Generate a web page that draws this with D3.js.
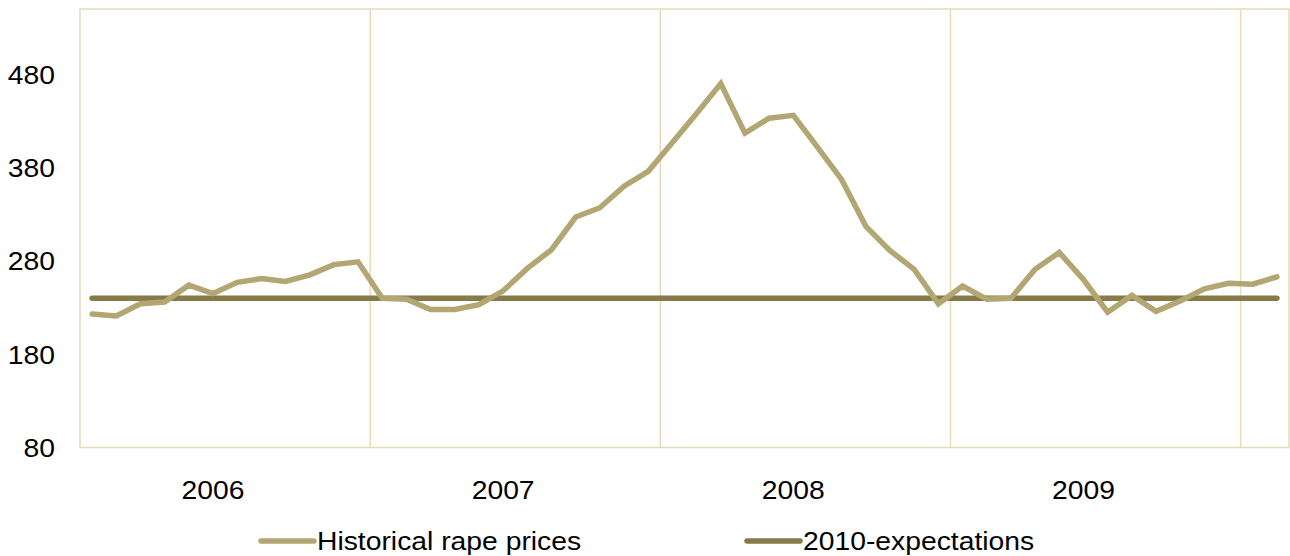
<!DOCTYPE html>
<html>
<head>
<meta charset="utf-8">
<script src="https://cdn.jsdelivr.net/npm/d3@7"></script>
<style>
  html, body { margin: 0; padding: 0; background: #ffffff; }
  svg { display: block; }
  text { font-family: "Liberation Sans", Arial, sans-serif; fill: #000; }
</style>
</head>
<body>
<svg id="chart" width="1290" height="556"></svg>
<script>
const months = [
  "2006-01","2006-02","2006-03","2006-04","2006-05","2006-06","2006-07","2006-08","2006-09","2006-10","2006-11","2006-12",
  "2007-01","2007-02","2007-03","2007-04","2007-05","2007-06","2007-07","2007-08","2007-09","2007-10","2007-11","2007-12",
  "2008-01","2008-02","2008-03","2008-04","2008-05","2008-06","2008-07","2008-08","2008-09","2008-10","2008-11","2008-12",
  "2009-01","2009-02","2009-03","2009-04","2009-05","2009-06","2009-07","2009-08","2009-09","2009-10","2009-11","2009-12",
  "2010-01","2010-02"
];
const historicalPrices = [
  223, 221, 234, 236, 254, 245, 257, 261, 258, 265, 276, 279,
  240, 239, 228, 228, 233, 248, 272, 292, 327, 337, 360, 376,
  407, 438, 470, 417, 433, 436, 402, 367, 317, 291, 271, 234,
  253, 239, 240, 271, 289, 260, 225, 243, 226, 237, 250, 256,
  255, 263
];
const expectations2010 = [
  240, 240, 240, 240, 240, 240, 240, 240, 240, 240, 240, 240,
  240, 240, 240, 240, 240, 240, 240, 240, 240, 240, 240, 240,
  240, 240, 240, 240, 240, 240, 240, 240, 240, 240, 240, 240,
  240, 240, 240, 240, 240, 240, 240, 240, 240, 240, 240, 240,
  240, 240
];
const yTicks = [80, 180, 280, 380, 480];
const yearLabels = ["2006", "2007", "2008", "2009"];
const yearLabelMonths = ["2006-06", "2007-06", "2008-06", "2009-06"];
const yearBoundaryMonths = ["2007-01", "2008-01", "2009-01", "2010-01"];
const seriesNames = ["Historical rape prices", "2010-expectations"];

const colHist = "#b2a672";
const colExp = "#857a48";
const colGrid = "#e6dcb6";
const stretch = 1.11;
const fontSize = "25.5px";

const svg = d3.select("#chart");
const pLeft = 80, pRight = 1289, pTop = 9, pBottom = 447.5;

const x = d3.scaleBand().domain(months).range([pLeft, pRight]).paddingInner(0).paddingOuter(0);
const y = d3.scaleLinear().domain([80, 550]).range([pBottom, pTop]);
const cx = m => x(m) + x.bandwidth() / 2;

// frame
svg.append("rect")
  .attr("x", pLeft).attr("y", pTop)
  .attr("width", pRight - pLeft).attr("height", pBottom - pTop)
  .attr("fill", "none").attr("stroke", colGrid).attr("stroke-width", 1.5);

// vertical year gridlines
svg.append("g").selectAll("line").data(yearBoundaryMonths).join("line")
  .attr("x1", d => x(d)).attr("x2", d => x(d))
  .attr("y1", pTop).attr("y2", pBottom)
  .attr("stroke", colGrid).attr("stroke-width", 1.5);

// y axis labels
const yAxis = svg.append("g")
  .attr("transform", `translate(${pLeft},0)`)
  .call(d3.axisLeft(y).tickValues(yTicks).tickSize(0).tickPadding(0));
yAxis.select(".domain").remove();
yAxis.selectAll(".tick line").remove();
yAxis.selectAll(".tick text")
  .attr("x", null).attr("dy", null)
  .attr("text-anchor", "end")
  .style("font-size", fontSize)
  .style("font-family", "'Liberation Sans', Arial, sans-serif")
  .attr("fill", "#000")
  .attr("transform", `translate(${55 - pLeft},9) scale(${stretch},1)`);

// x axis labels
const xAxis = svg.append("g")
  .attr("transform", `translate(0,${pBottom})`)
  .call(d3.axisBottom(x).tickValues(yearLabelMonths)
    .tickFormat((d, i) => yearLabels[i]).tickSize(0).tickPadding(0));
xAxis.select(".domain").remove();
xAxis.selectAll(".tick line").remove();
xAxis.selectAll(".tick text")
  .attr("y", null).attr("dy", null)
  .attr("text-anchor", "middle")
  .style("font-size", fontSize)
  .style("font-family", "'Liberation Sans', Arial, sans-serif")
  .attr("fill", "#000")
  .attr("transform", `translate(0,51) scale(${stretch},1)`);

// lines
const line = d3.line().x((d, i) => cx(months[i])).y(d => y(d));
svg.append("path").datum(expectations2010)
  .attr("d", line).attr("fill", "none")
  .attr("stroke", colExp).attr("stroke-width", 5.5)
  .attr("stroke-linecap", "round").attr("stroke-linejoin", "round");
svg.append("path").datum(historicalPrices)
  .attr("d", line).attr("fill", "none")
  .attr("stroke", colHist).attr("stroke-width", 5.5)
  .attr("stroke-linecap", "round").attr("stroke-linejoin", "miter");

// legend
const legendItems = [
  { name: seriesNames[0], color: colHist, x0: 261 },
  { name: seriesNames[1], color: colExp, x0: 747 }
];
const lg = svg.append("g");
legendItems.forEach(it => {
  lg.append("line")
    .attr("x1", it.x0).attr("x2", it.x0 + 53)
    .attr("y1", 541).attr("y2", 541)
    .attr("stroke", it.color).attr("stroke-width", 5.5)
    .attr("stroke-linecap", "round");
  lg.append("text")
    .attr("transform", `translate(${it.x0 + 56},550) scale(${stretch},1)`)
    .style("font-size", fontSize)
    .text(it.name);
});
</script>
</body>
</html>
